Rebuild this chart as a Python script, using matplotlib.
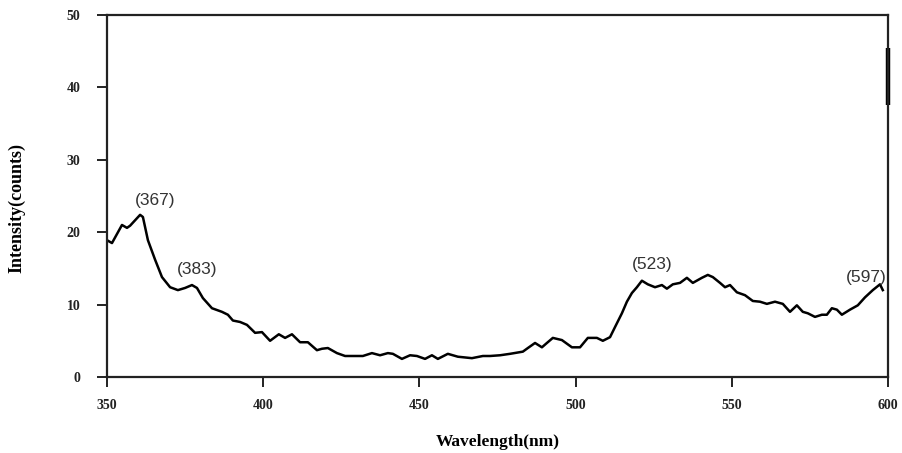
import matplotlib
matplotlib.use("Agg")
import matplotlib.pyplot as plt

# emission spectrum
wavelength = [
    350.0, 351.6, 354.8, 356.4, 357.4, 360.6, 361.5, 363.1, 365.4, 367.6,
    370.2, 372.7, 375.0, 377.2, 378.8, 380.7, 383.6, 386.8, 388.7, 390.3,
    392.6, 394.8, 397.4, 399.6, 402.2, 405.0, 407.0, 409.2, 411.8, 414.3,
    417.2, 418.8, 420.7, 423.6, 426.2, 430.3, 431.9, 434.8, 437.4, 439.9,
    441.5, 444.4, 447.0, 449.2, 451.8, 454.0, 455.9, 459.1, 462.3, 466.8,
    470.3, 472.6, 475.8, 479.0, 483.1, 484.7, 487.0, 489.2, 490.8, 492.7,
    495.6, 498.8, 501.4, 503.9, 506.8, 508.7, 511.0, 512.6, 514.8, 516.4,
    518.0, 519.6, 521.2, 523.1, 525.4, 527.6, 529.2, 531.1, 533.4, 535.6,
    537.5, 540.4, 542.3, 543.9, 546.2, 547.8, 549.4, 551.6, 554.2, 556.7,
    559.0, 561.2, 563.8, 566.3, 568.6, 570.8, 572.7, 574.3, 576.6, 578.8,
    580.4, 582.0, 583.6, 585.2, 587.8, 590.3, 592.6, 595.1, 597.4, 598.3,
]
intensity = [
    18.9, 18.5, 21.0, 20.6, 20.9, 22.4, 22.1, 18.9, 16.2, 13.8,
    12.4, 12.0, 12.3, 12.7, 12.3, 10.9, 9.5, 9.0, 8.6, 7.8,
    7.6, 7.2, 6.1, 6.2, 5.0, 5.9, 5.4, 5.9, 4.8, 4.8,
    3.7, 3.9, 4.0, 3.3, 2.9, 2.9, 2.9, 3.3, 3.0, 3.3,
    3.2, 2.5, 3.0, 2.9, 2.5, 3.0, 2.5, 3.2, 2.8, 2.6,
    2.9, 2.9, 3.0, 3.2, 3.5, 4.0, 4.7, 4.1, 4.7, 5.4,
    5.1, 4.1, 4.1, 5.4, 5.4, 5.0, 5.5, 6.9, 8.8, 10.4,
    11.6, 12.4, 13.3, 12.8, 12.4, 12.7, 12.2, 12.8, 13.0, 13.7,
    13.0, 13.7, 14.1, 13.8, 13.0, 12.4, 12.7, 11.7, 11.3, 10.5,
    10.4, 10.1, 10.4, 10.1, 9.0, 9.9, 9.0, 8.8, 8.3, 8.6,
    8.6, 9.5, 9.3, 8.6, 9.3, 9.9, 11.0, 12.0, 12.8, 12.0,
]

peak_labels = ["(367)", "(383)", "(523)", "(597)"]
peak_x = [365.4, 378.8, 524.4, 592.9]
peak_y = [24.4, 14.9, 15.5, 13.7]

# short heavy stroke on the right frame in the original scan
frame_mark = [37.6, 45.4]

fig = plt.figure(figsize=(9.02, 4.53), dpi=100)
ax = fig.add_axes([0.1186, 0.1678, 0.866, 0.799])

ax.plot(wavelength, intensity, color="black", linewidth=1.8)

for lab, px, py in zip(peak_labels, peak_x, peak_y):
    ax.text(px, py, lab, ha="center", va="center", fontsize=12.5,
            family="Liberation Sans", color="#333333")

ax.plot([600, 600], frame_mark, color="black", linewidth=3.2,
        solid_capstyle="butt", clip_on=False)

ax.set_xlim(350, 600)
ax.set_ylim(0, 50)
ax.set_xticks([350, 400, 450, 500, 550, 600])
ax.set_yticks([0, 10, 20, 30, 40, 50])

for s in ax.spines.values():
    s.set_linewidth(1.6)
    s.set_color("#222222")

ax.tick_params(axis="both", direction="out", length=7, width=1.4,
               colors="#222222")
for lbl in ax.get_xticklabels() + ax.get_yticklabels():
    lbl.set_family("Liberation Serif")
    lbl.set_fontweight("bold")
    lbl.set_fontsize(10)
ax.tick_params(axis="x", pad=9)
ax.tick_params(axis="y", pad=12)

ax.set_xlabel("Wavelength(nm)", family="Liberation Serif", fontweight="bold",
              fontsize=12.5, labelpad=16)
ax.set_ylabel("Intensity(counts)", family="Liberation Serif", fontweight="bold",
              fontsize=13)
ax.yaxis.set_label_coords(-0.104, 0.467)

fig.savefig("out.png", dpi=100)
